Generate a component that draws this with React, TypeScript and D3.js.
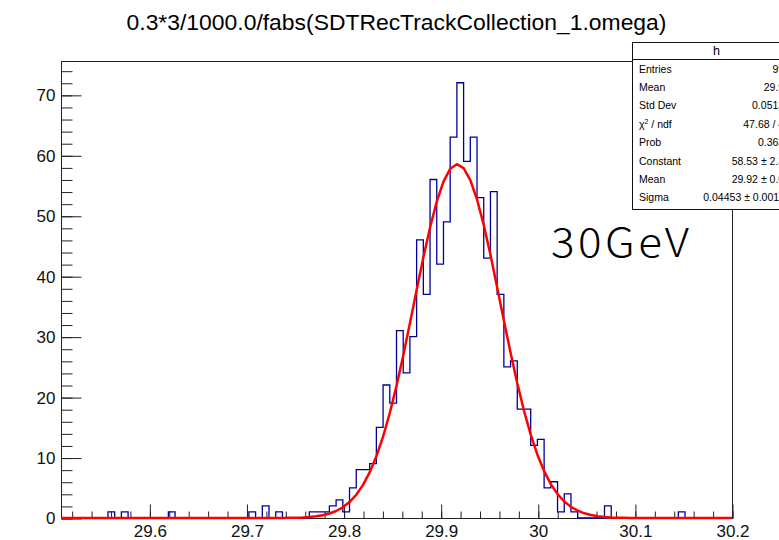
import React, { useEffect, useRef } from 'react';
import * as d3 from 'd3';

// bin contents of h, 100 bins over the x range
const binCounts = [
    0, 0, 0, 0, 0, 0, 0, 1, 0, 1,
    0, 0, 0, 0, 0, 0, 1, 0, 0, 0,
    0, 0, 0, 0, 0, 0, 0, 0, 1, 0,
    2, 0, 1, 0, 0, 0, 0, 1, 1, 1,
    2, 3, 1, 5, 8, 8, 9, 15, 22, 19,
    31, 24, 30, 46, 37, 56, 42, 49, 63, 72,
    59, 63, 53, 43, 54, 37, 25, 26, 18, 18,
    12, 13, 5, 6, 1, 4, 1, 0, 0, 0,
    0, 2, 0, 0, 0, 0, 0, 0, 0, 0,
    0, 0, 1, 0, 0, 0, 0, 0, 0, 0,
];
const xRange = [29.509, 30.2];
const xMajorTicks = [29.6, 29.7, 29.8, 29.9, 30, 30.1, 30.2];
const yMajorTicks = [0, 10, 20, 30, 40, 50, 60, 70];

// gaus fit result
const fitConstant = 58.53;
const fitMean = 29.917;
const fitSigma = 0.04453;

const title = '0.3*3/1000.0/fabs(SDTRecTrackCollection_1.omega)';
const statLabels = ['Entries', 'Mean', 'Std Dev', 'chi2', 'Prob', 'Constant', 'Mean', 'Sigma'];
const statValues = ['993', '29.92', '0.05131', '47.68 / 45', '0.3632', '58.53 \u00b1 2.33', '29.92 \u00b1 0.00', '0.04453 \u00b1 0.00114'];
const note = '30GeV';

const font = '"Liberation Sans", Arial, sans-serif';

export default function App() {
    const ref = useRef<SVGSVGElement>(null);

    useEffect(() => {
        const svg = d3.select(ref.current);
        svg.selectAll('*').remove();

        const left = 61, right = 732, top = 61, bottom = 518;
        const yMax = 1.05 * (d3.max(binCounts) as number);

        const x = d3.scaleLinear().domain(xRange).range([left, right]);
        const y = d3.scaleLinear().domain([0, yMax]).range([bottom, top]);
        const binWidth = (xRange[1] - xRange[0]) / binCounts.length;

        //title
        svg.append('text')
            .attr('x', 396.5).attr('y', 30)
            .attr('text-anchor', 'middle')
            .attr('font-family', font).attr('font-size', 22.9)
            .text(title);

        //frame
        svg.append('rect')
            .attr('x', left + 0.5).attr('y', top + 0.5)
            .attr('width', right - left).attr('height', bottom - top)
            .attr('fill', 'none').attr('stroke', '#222').attr('stroke-width', 1);

        //x axis: ticks point inwards
        const xMinor = d3.range(0, 35).map(i => 29.52 + i * 0.02);
        const xAxisMinor = svg.append('g').attr('transform', `translate(0.5, ${bottom + 0.5})`)
            .call(d3.axisBottom(x).tickValues(xMinor).tickSize(-7).tickFormat(() => ''));
        const xAxis = svg.append('g').attr('transform', `translate(0.5, ${bottom + 0.5})`)
            .call(d3.axisBottom(x).tickValues(xMajorTicks).tickSize(-14).tickPadding(6)
                .tickFormat(d => String(+(+d).toFixed(1))));

        //y axis
        const yMinor = d3.range(0, 76, 2);
        const yAxisMinor = svg.append('g').attr('transform', `translate(${left + 0.5}, 0.5)`)
            .call(d3.axisLeft(y).tickValues(yMinor).tickSize(-11).tickFormat(() => ''));
        const yAxis = svg.append('g').attr('transform', `translate(${left + 0.5}, 0.5)`)
            .call(d3.axisLeft(y).tickValues(yMajorTicks).tickSize(-20).tickPadding(6));

        [xAxisMinor, xAxis, yAxisMinor, yAxis].forEach(g => {
            g.select('.domain').remove();
            g.selectAll('line').attr('stroke', '#222');
            g.selectAll('text').attr('font-family', font).attr('font-size', 17).attr('fill', '#111');
        });

        //histogram outline
        const pts: [number, number][] = [[xRange[0], 0]];
        binCounts.forEach((c, i) => pts.push([xRange[0] + i * binWidth, c]));
        pts.push([xRange[1], binCounts[binCounts.length - 1]]);
        pts.push([xRange[1], 0]);
        svg.append('path')
            .attr('d', d3.line().curve(d3.curveStepAfter)
                .x(d => x(d[0])).y(d => y(d[1]))(pts))
            .attr('fill', 'none').attr('stroke', '#000099').attr('stroke-width', 1.3);

        //gaus fit, 100 points like root
        const fitPts: [number, number][] = d3.range(0, 101).map(i => {
            const xv = xRange[0] + i * (xRange[1] - xRange[0]) / 100;
            return [xv, fitConstant * Math.exp(-0.5 * ((xv - fitMean) / fitSigma) ** 2)];
        });
        svg.append('path')
            .attr('d', d3.line().x(d => x(d[0])).y(d => y(d[1]))(fitPts))
            .attr('fill', 'none').attr('stroke', '#ff0000').attr('stroke-width', 2.5)
            .attr('stroke-linejoin', 'round');

        //stats box (runs off the right edge like the original)
        const bx = 632, by = 42, bw = 169, bh = 167, headH = 17;
        const stats = svg.append('g');
        stats.append('rect')
            .attr('x', bx + 0.5).attr('y', by + 0.5).attr('width', bw).attr('height', bh)
            .attr('fill', 'white').attr('stroke', '#111');
        stats.append('line')
            .attr('x1', bx).attr('x2', bx + bw)
            .attr('y1', by + headH + 0.5).attr('y2', by + headH + 0.5)
            .attr('stroke', '#111');
        stats.append('text')
            .attr('x', bx + bw / 2).attr('y', by + 13)
            .attr('text-anchor', 'middle')
            .attr('font-family', font).attr('font-size', 12.5)
            .text('h');
        statLabels.forEach((lab, i) => {
            const cy = 68.8 + i * 18.4 + 3.8;
            const t = stats.append('text')
                .attr('x', 639).attr('y', cy)
                .attr('font-family', font).attr('font-size', 10.5);
            if (lab === 'chi2') {
                t.append('tspan').text('\u03c7');
                t.append('tspan').attr('font-size', 7).attr('dy', -4).text('2');
                t.append('tspan').attr('dy', 4).text(' / ndf');
            } else {
                t.text(lab);
            }
            stats.append('text')
                .attr('x', 790).attr('y', cy)
                .attr('text-anchor', 'end')
                .attr('font-family', font).attr('font-size', 10.5)
                .text(statValues[i]);
        });

        //energy label, a bit wider than the stock glyphs
        svg.append('text')
            .attr('transform', 'translate(551, 256.5) scale(1.1, 1)')
            .attr('font-family', '"Noto Sans CJK JP", "Noto Sans", sans-serif')
            .attr('font-size', 40)
            .attr('font-weight', 300)
            .attr('letter-spacing', 3.2)
            .text(note);
    }, []);

    return (
        <svg ref={ref} width={779} height={540}
            style={{ position: 'absolute', left: 0, top: 0, background: 'white' }}></svg>
    );
}
